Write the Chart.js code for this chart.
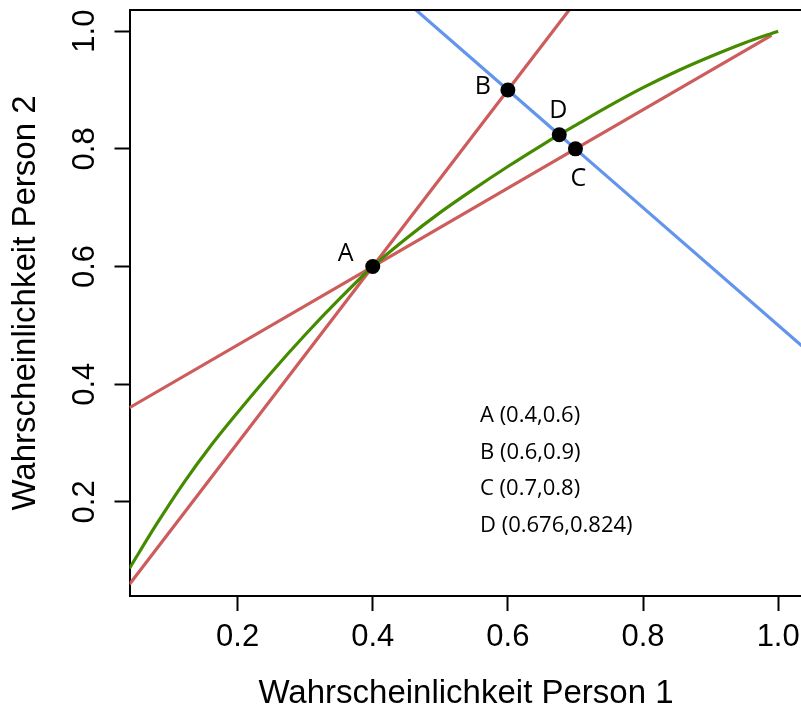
<!DOCTYPE html>
<html>
<head>
<meta charset="utf-8">
<script src="https://cdn.jsdelivr.net/npm/chart.js@4"></script>
<style>
  html, body { margin: 0; padding: 0; background: #fff; overflow: hidden; }
  canvas { display: block; }
</style>
</head>
<body>
<canvas id="chart" width="810" height="708"></canvas>
<script>
// achsen
const xTicks = [0.2, 0.4, 0.6, 0.8, 1.0];
const yTicks = [0.2, 0.4, 0.6, 0.8, 1.0];

// grüne Kurve
const curveX = [0.04, 0.08, 0.12, 0.16, 0.20, 0.25, 0.30, 0.35, 0.40, 0.45, 0.50, 0.55, 0.60, 0.65, 0.676, 0.70, 0.75, 0.80, 0.85, 0.90, 0.95, 1.00];
const curveY = [0.087, 0.162, 0.232, 0.295, 0.352, 0.42, 0.484, 0.544, 0.60, 0.648, 0.692, 0.732, 0.77, 0.806, 0.824, 0.84, 0.873, 0.904, 0.932, 0.957, 0.98, 1.00];

// rote Gerade durch A und C
const flatX = [0.04, 0.4, 0.7, 0.99];
const flatY = [0.36, 0.6, 0.8, 0.993];

// rote Gerade durch A und B
const steepX = [0.04, 0.4, 0.6, 0.7];
const steepY = [0.06, 0.6, 0.9, 1.05];

// blaue Gerade durch B, D und C
const blueX = [0.45, 0.6, 0.676, 0.7, 1.05];
const blueY = [1.05, 0.9, 0.824, 0.8, 0.45];

// markierte Punkte
const pointNames = ['A', 'B', 'C', 'D'];
const pointX = [0.4, 0.6, 0.7, 0.676];
const pointY = [0.6, 0.9, 0.8, 0.824];

const toXY = (xs, ys) => xs.map((x, i) => ({ x: x, y: ys[i] }));

const RED = '#CD5C5C';
const BLUE = '#6495ED';
const GREEN = '#458B00';
const AXIS_FONT = 'Liberation Sans, Arial, sans-serif';
const NOTE_FONT = 'Open Sans, Noto Sans, sans-serif';

// Buchstaben neben den Punkten (Versatz in Pixel)
const letterOffset = { A: [-27, -13], B: [-25, -3], C: [3, 30], D: [-1, -24] };

const extras = {
    id: 'extras',
    afterDatasetsDraw(chart) {
        const { ctx, chartArea, scales } = chart;
        ctx.save();
        // obere Rahmenlinie
        ctx.strokeStyle = '#000';
        ctx.lineWidth = 2;
        ctx.beginPath();
        ctx.moveTo(chartArea.left, chartArea.top);
        ctx.lineTo(chartArea.right + 10, chartArea.top);
        ctx.stroke();

        ctx.fillStyle = '#000';
        ctx.textAlign = 'center';
        ctx.textBaseline = 'middle';
        ctx.font = '25px ' + NOTE_FONT;
        pointNames.forEach((n, i) => {
            const px = scales.x.getPixelForValue(pointX[i]);
            const py = scales.y.getPixelForValue(pointY[i]);
            const off = letterOffset[n];
            ctx.fillText(n, px + off[0], py + off[1]);
        });

        // Koordinatenliste
        ctx.textAlign = 'left';
        ctx.textBaseline = 'alphabetic';
        ctx.font = '22px ' + NOTE_FONT;
        pointNames.forEach((n, i) => {
            ctx.fillText(n + ' (' + pointX[i] + ',' + pointY[i] + ')', 480, 422 + i * 36.5);
        });
        ctx.restore();
    }
};

const lineDs = (data, color) => ({
    data: data,
    showLine: true,
    borderColor: color,
    borderWidth: 3.2,
    pointRadius: 0,
    fill: false
});

new Chart(document.getElementById('chart').getContext('2d'), {
    type: 'scatter',
    data: {
        datasets: [
            {
                data: toXY(pointX, pointY),
                pointRadius: 7.5,
                pointBackgroundColor: '#000',
                pointBorderWidth: 0,
                showLine: false
            },
            Object.assign(lineDs(toXY(curveX, curveY), GREEN), { cubicInterpolationMode: 'monotone' }),
            lineDs(toXY(blueX, blueY), BLUE),
            lineDs(toXY(flatX, flatY), RED),
            lineDs(toXY(steepX, steepY), RED)
        ]
    },
    options: {
        responsive: false,
        animation: false,
        layout: { padding: { top: 10, right: 7.5, left: 0, bottom: 0 } },
        plugins: {
            legend: { display: false },
            tooltip: { enabled: false }
        },
        scales: {
            x: {
                type: 'linear',
                min: 0.04,
                max: 1.036,
                afterBuildTicks: s => { s.ticks = xTicks.map(v => ({ value: v })); },
                afterFit: s => { s.height = 112; s.paddingLeft = 0; s.paddingRight = 0; },
                grid: { drawOnChartArea: false, drawTicks: true, tickLength: 15, tickColor: '#000', tickWidth: 2 },
                border: { display: true, color: '#000', width: 2 },
                ticks: {
                    color: '#000',
                    padding: 8,
                    maxRotation: 0,
                    font: { family: AXIS_FONT, size: 31 },
                    callback: v => v.toFixed(1)
                },
                title: {
                    display: true,
                    text: 'Wahrscheinlichkeit Person 1',
                    color: '#000',
                    padding: 0,
                    font: { family: AXIS_FONT, size: 33, lineHeight: 0.85 }
                }
            },
            y: {
                type: 'linear',
                min: 0.04,
                max: 1.036,
                afterBuildTicks: s => { s.ticks = yTicks.map(v => ({ value: v })); },
                afterFit: s => { s.width = 129.5; s.paddingTop = 0; s.paddingBottom = 0; },
                grid: { drawOnChartArea: false, drawTicks: true, tickLength: 15, tickColor: '#000', tickWidth: 2 },
                border: { display: true, color: '#000', width: 2 },
                ticks: {
                    color: '#000',
                    padding: 7,
                    minRotation: 90,
                    maxRotation: 90,
                    crossAlign: 'center',
                    font: { family: AXIS_FONT, size: 31 },
                    callback: v => v.toFixed(1)
                },
                title: {
                    display: true,
                    text: 'Wahrscheinlichkeit Person 2',
                    color: '#000',
                    padding: 0,
                    font: { family: AXIS_FONT, size: 33, lineHeight: 1.6 }
                }
            }
        }
    },
    plugins: [extras]
});
</script>
</body>
</html>
